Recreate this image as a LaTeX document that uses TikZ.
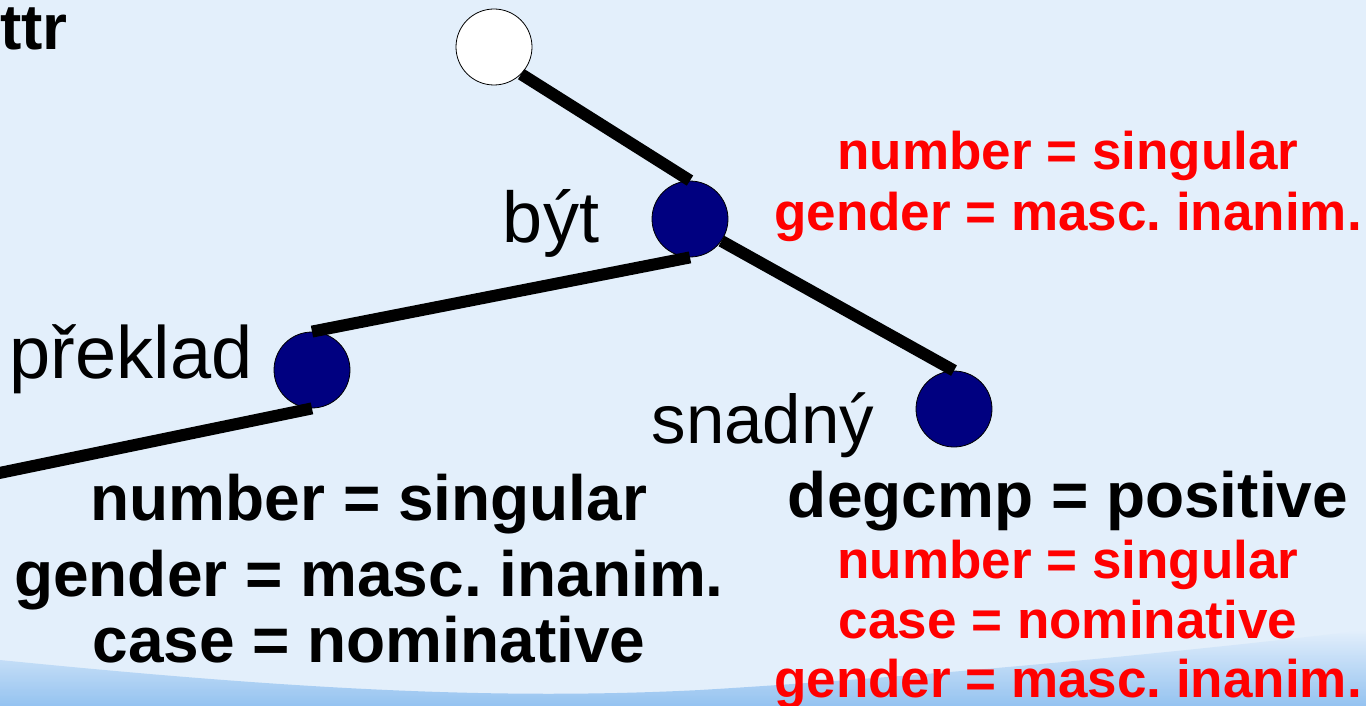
\documentclass[tikz,border=0pt]{standalone}
\usepackage{fontspec}
\setmainfont{Liberation Sans}
\frenchspacing
\definecolor{bg}{RGB}{227,239,251}
\definecolor{wave}{RGB}{140,190,240}
\definecolor{navyc}{RGB}{0,0,128}
\definecolor{redc}{RGB}{255,0,0}
\tikzset{
  treenode/.style={circle, draw=black, line width=0.8pt, minimum size=76pt, inner sep=0pt},
  edge/.style={line width=12pt, black},
  word/.style={anchor=base, inner sep=0pt, font=\fontsize{72}{72}\selectfont},
  blk/.style={anchor=base, inner sep=0pt, text=black, font=\fontsize{64}{64}\selectfont\bfseries},
  rd/.style={anchor=base, inner sep=0pt, text=redc, font=\fontsize{53}{53}\selectfont\bfseries},
}
\begin{document}
\begin{tikzpicture}[x=1pt,y=-1pt]
\useasboundingbox (0,0) rectangle (1366,706);
\clip (0,0) rectangle (1366,706);
% background
\fill[bg] (0,0) rectangle (1366,706);
\shade[top color=bg, bottom color=wave, opacity=0.9]
  (0,660) .. controls (300,690) and (500,700) .. (700,690)
  .. controls (950,675) and (1200,650) .. (1366,630)
  -- (1366,706) -- (0,706) -- cycle;
% nodes
\node[treenode, fill=white] (root) at (494,47) {};
\node[treenode, fill=navyc] (byt) at (690,219) {};
\node[treenode, fill=navyc] (preklad) at (312,370) {};
\node[treenode, fill=navyc] (snadny) at (954,409) {};
\coordinate (offl) at (-20,477);
% edges
\draw[edge] (root.-45) -- (byt.north);
\draw[edge] (byt.south) -- (preklad.north);
\draw[edge] (byt.-35) -- (snadny.north);
\draw[edge] (preklad.south) -- (offl);
% words
\node[anchor=base east, inner sep=0pt, font=\fontsize{64}{64}\selectfont\bfseries] (attr) at (68,50) {ttr};
\node[word] (lbyt) at (551,242) {být};
\node[word, font=\fontsize{74}{74}\selectfont] (lpreklad) at (131,378) {překlad};
\node[word, font=\fontsize{69}{69}\selectfont] (lsnadny) at (763,443) {snadný};
% red attributes top
\node[rd] (r1) at (1068,170) {number = singular};
\node[rd] (r2) at (1068,230) {gender = masc. inanim.};
% black left block
\node[blk] (b1) at (369,520) {number = singular};
\node[blk] (b2) at (369,596) {gender = masc. inanim.};
\node[blk] (b3) at (369,662) {case = nominative};
% right block
\node[blk] (d1) at (1068,517) {degcmp = positive};
\node[rd] (r3) at (1068,578) {number = singular};
\node[rd] (r4) at (1068,638) {case = nominative};
\node[rd] (r5) at (1068,697) {gender = masc. inanim.};
\end{tikzpicture}
\end{document}
